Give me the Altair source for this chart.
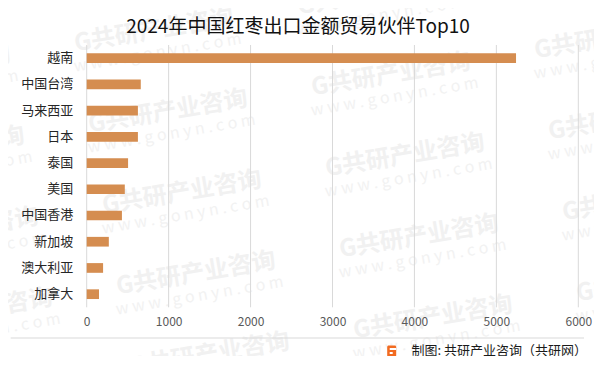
import math
import altair as alt
import pandas as pd

# ---- data ----
categories = ["越南", "中国台湾", "马来西亚", "日本", "泰国", "美国", "中国香港", "新加坡", "澳大利亚", "加拿大"]
values = [5240, 660, 625, 625, 505, 465, 430, 270, 200, 150]
x_ticks = [0, 1000, 2000, 3000, 4000, 5000, 6000]
title_text = ["2024年中国红枣出口金额贸易伙伴Top10"]
source_text = ["制图: 共研产业咨询（共研网）"]
wm_main = "G共研产业咨询"
wm_sub = "w w w . g o n y n . c o m"

FONT = "Noto Sans CJK SC"
W, H = 491.6, 262.3
OX, OY = 86.7, 45.0  # plot origin on the page

df = pd.DataFrame({"country": categories, "value": values})
tick_df = pd.DataFrame({"value": x_ticks})

# ---- watermark tiling (decoration) ----
ang = 350.5
rad = math.radians(360 - ang)
wm_rows = []
for i in range(-1, 3):
    for j in range(-2, 5):
        cx = 168 + 223 * i + 14 * j - OX
        cy = 112 - 37 * i + 81 * j - OY
        wm_rows.append({"px": cx, "py": cy, "t": wm_main, "k": "main"})
        wm_rows.append({"px": cx + 22 * math.sin(rad), "py": cy + 22 * math.cos(rad), "t": wm_sub, "k": "sub"})
wm_df = pd.DataFrame(wm_rows)

wm_main_layer = alt.Chart(wm_df[wm_df.k == "main"]).mark_text(
    angle=ang, align="center", baseline="middle", fontSize=24, fontWeight="bold",
    font=FONT, color="#f1f1f1"
).encode(
    x=alt.X("px:Q", scale=None, axis=None),
    y=alt.Y("py:Q", scale=None, axis=None),
    text="t:N",
)
wm_sub_layer = alt.Chart(wm_df[wm_df.k == "sub"]).mark_text(
    angle=ang, align="center", baseline="middle", fontSize=16,
    font=FONT, color="#f2f2f2"
).encode(
    x=alt.X("px:Q", scale=None, axis=None),
    y=alt.Y("py:Q", scale=None, axis=None),
    text="t:N",
)

xscale = alt.Scale(domain=[0, 6000], nice=False)
xaxis = alt.Axis(
    values=x_ticks, title=None, grid=False, zindex=1, labelFlush=False,
    domain=False, ticks=False, labelPadding=9, labelColor="#595959",
    labelFontSize=12, labelFont=FONT, format="d",
)

grid = alt.Chart(tick_df).mark_rule(color="#d9d9d9", strokeWidth=1).encode(
    x=alt.X("value:Q", scale=xscale, axis=xaxis)
)

bars = alt.Chart(df).mark_bar(color="#D58D50").encode(
    x=alt.X("value:Q", scale=xscale, axis=xaxis),
    y=alt.Y(
        "country:N",
        sort=categories,
        scale=alt.Scale(paddingInner=0.63, paddingOuter=0.315),
        axis=alt.Axis(
            title=None, domain=False, ticks=False, labelPadding=14, zindex=1,
            labelFontSize=13, labelColor="#262626", labelFont=FONT,
        ),
    ),
)

title = alt.Chart(pd.DataFrame({"t": title_text})).mark_text(
    align="center", baseline="middle", fontSize=19, font=FONT, color="#111111"
).encode(x=alt.value(211.3), y=alt.value(-18), text="t:N")

sep = alt.Chart(pd.DataFrame({"a": [0]})).mark_rule(color="#d9d9d9", strokeWidth=1).encode(
    x=alt.value(-76), x2=alt.value(497.3), y=alt.value(293)
)

logo = alt.Chart(pd.DataFrame({"a": [0]})).mark_rect(color="#F26B21", cornerRadius=1.5).encode(
    x=alt.value(300.5), x2=alt.value(309.5), y=alt.value(300.5), y2=alt.value(312)
)
logo_cut = alt.Chart(pd.DataFrame({"a": [0]})).mark_rect(color="#ffffff").encode(
    x=alt.value(303), x2=alt.value(309.5), y=alt.value(303), y2=alt.value(305)
)
logo_cut2 = alt.Chart(pd.DataFrame({"a": [0]})).mark_rect(color="#ffffff").encode(
    x=alt.value(303), x2=alt.value(306), y=alt.value(307), y2=alt.value(309)
)

source = alt.Chart(pd.DataFrame({"t": source_text})).mark_text(
    align="right", baseline="middle", fontSize=13, font=FONT, color="#1a1a1a"
).encode(x=alt.value(500.3), y=alt.value(306), text="t:N")

chart = alt.layer(
    wm_main_layer, wm_sub_layer, grid, bars, title, sep, logo, logo_cut, logo_cut2, source
).properties(
    width=W, height=H, autosize="none",
    padding={"left": 78.7, "top": 37, "right": 15.7, "bottom": 48.7},
    background="#ffffff",
).configure_view(stroke=None)

chart.save("out.html", embed_options={"renderer": "svg", "actions": False})
